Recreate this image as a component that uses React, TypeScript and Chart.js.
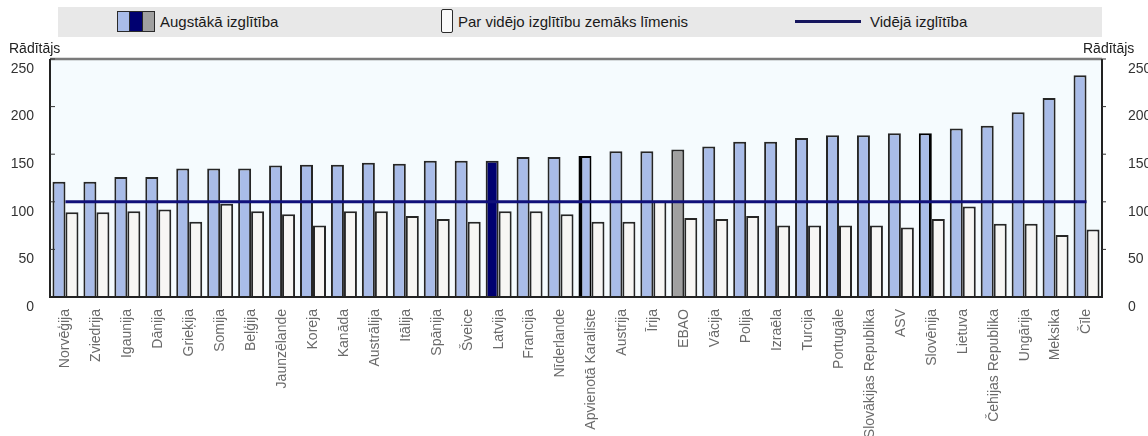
import React, { useEffect, useRef } from 'react';
import { Chart, registerables } from 'chart.js';

Chart.register(...registerables);

const categories = [
  'Norvēģija', 'Zviedrija', 'Igaunija', 'Dānija', 'Grieķija', 'Somija', 'Beļģija',
  'Jaunzēlande', 'Koreja', 'Kanāda', 'Austrālija', 'Itālija', 'Spānija', 'Šveice',
  'Latvija', 'Francija', 'Nīderlande', 'Apvienotā Karaliste', 'Austrija', 'Īrija',
  'EBAO', 'Vācija', 'Polija', 'Izraēla', 'Turcija', 'Portugāle', 'Slovākijas Republika',
  'ASV', 'Slovēnija', 'Lietuva', 'Čehijas Republika', 'Ungārija', 'Meksika', 'Čīle',
];

const higherEducation = [
  121, 121, 126, 126, 135, 135, 135, 138, 139, 139, 141, 140, 143, 143,
  143, 147, 147, 148, 153, 153, 155, 158, 163, 163, 167, 170, 170, 172,
  172, 177, 180, 194, 209, 233,
];

const belowSecondary = [
  89, 89, 90, 92, 79, 98, 90, 87, 75, 90, 90, 85, 82, 79,
  90, 90, 87, 79, 79, 101, 83, 82, 85, 75, 75, 75, 75, 73,
  82, 95, 77, 77, 65, 71,
];

const secondaryAverage = [
  100, 100, 100, 100, 100, 100, 100, 100, 100, 100, 100, 100, 100, 100,
  100, 100, 100, 100, 100, 100, 100, 100, 100, 100, 100, 100, 100, 100,
  100, 100, 100, 100, 100, 100,
];

const yTicks = [0, 50, 100, 150, 200, 250];

const FONT = "'Liberation Sans', Arial, sans-serif";
const BLUE = '#a9bce8';
const NAVY = '#000070';
const GRAY = '#a0a0a0';
const LINE = '#10107a';

const framePlugin = {
  id: 'framePlugin',
  beforeDatasetsDraw(chart: any) {
    const { ctx, chartArea: a } = chart;
    ctx.save();
    ctx.fillStyle = '#f5fbfe';
    ctx.fillRect(a.left, a.top, a.right - a.left, a.bottom - a.top);
    ctx.restore();
  },
  afterDraw(chart: any) {
    const { ctx, chartArea: a } = chart;
    const y = chart.scales.y;
    ctx.save();
    ctx.lineWidth = 2.5;
    ctx.strokeStyle = '#7a7a7a';
    ctx.beginPath();
    ctx.moveTo(a.left, a.top);
    ctx.lineTo(a.right, a.top);
    ctx.stroke();
    ctx.lineWidth = 2;
    ctx.strokeStyle = '#222';
    ctx.beginPath();
    ctx.moveTo(a.left, a.top);
    ctx.lineTo(a.left, a.bottom);
    ctx.lineTo(a.right, a.bottom);
    ctx.lineTo(a.right, a.top);
    ctx.stroke();
    ctx.lineWidth = 1;
    ctx.strokeStyle = '#333';
    yTicks.forEach((v) => {
      if (v === 0) return;
      const py = y.getPixelForValue(v);
      ctx.beginPath();
      ctx.moveTo(a.left, py);
      ctx.lineTo(a.left + 5, py);
      ctx.moveTo(a.right, py);
      ctx.lineTo(a.right + 4, py);
      ctx.stroke();
    });
    ctx.restore();
  },
};

export default function App() {
  const canvasRef = useRef<HTMLCanvasElement | null>(null);

  useEffect(() => {
    document.body.style.margin = '0';
    const canvas = canvasRef.current;
    if (!canvas) return;
    const blueColors = categories.map((c) =>
      c === 'Latvija' ? NAVY : c === 'EBAO' ? GRAY : BLUE
    );
    const blueBorders = categories.map((c) =>
      c === 'Apvienotā Karaliste'
        ? { left: 4, right: 2, top: 2, bottom: 0 }
        : c === 'Slovēnija'
        ? { left: 2, right: 3, top: 2, bottom: 0 }
        : { left: 2, right: 2, top: 2, bottom: 0 }
    );
    const chart = new Chart(canvas, {
      type: 'bar',
      data: {
        labels: categories,
        datasets: [
          {
            type: 'line',
            label: 'Vidējā izglītība',
            data: secondaryAverage,
            borderColor: LINE,
            borderWidth: 3,
            pointRadius: 0,
            fill: false,
            order: 0,
            yAxisID: 'y',
          } as any,
          {
            label: 'Augstākā izglītība',
            data: higherEducation,
            backgroundColor: blueColors,
            borderColor: categories.map((c) => (c === 'Apvienotā Karaliste' || c === 'Slovēnija' ? '#000' : '#262626')),
            borderWidth: blueBorders as any,
            borderSkipped: false,
            categoryPercentage: 0.84,
            barPercentage: 1,
            order: 1,
            yAxisID: 'y',
          },
          {
            label: 'Par vidējo izglītību zemāks līmenis',
            data: belowSecondary,
            backgroundColor: '#f7f6f4',
            borderColor: '#262626',
            borderWidth: { left: 2, right: 2, top: 2, bottom: 0 } as any,
            borderSkipped: false,
            categoryPercentage: 0.84,
            barPercentage: 1,
            order: 2,
            yAxisID: 'y',
          },
        ],
      },
      options: {
        animation: false,
        responsive: false,
        maintainAspectRatio: false,
        layout: { padding: { top: 59, left: 0, right: 0, bottom: 0 } },
        plugins: {
          legend: { display: false },
          tooltip: { enabled: false },
          title: { display: false },
        },
        scales: {
          x: {
            offset: true,
            grid: { display: false },
            border: { display: false },
            ticks: {
              autoSkip: false,
              maxRotation: 90,
              minRotation: 90,
              padding: 4,
              color: '#6a6a6a',
              font: { family: FONT, size: 14 },
            },
            afterFit: (s: any) => {
              s.height = 139;
            },
          },
          y: {
            position: 'left',
            min: yTicks[0],
            max: yTicks[yTicks.length - 1],
            grid: { display: false },
            border: { display: false },
            ticks: {
              stepSize: 50,
              padding: 8,
              labelOffset: 10,
              color: '#333',
              font: { family: FONT, size: 14 },
            },
            afterFit: (s: any) => {
              s.width = 50;
            },
          },
          y2: {
            position: 'right',
            min: yTicks[0],
            max: yTicks[yTicks.length - 1],
            grid: { display: false },
            border: { display: false },
            ticks: {
              stepSize: 50,
              padding: 18,
              labelOffset: 10,
              color: '#333',
              font: { family: FONT, size: 14 },
            },
            afterFit: (s: any) => {
              s.width = 46;
            },
          },
        },
      },
      plugins: [framePlugin],
    });
    return () => chart.destroy();
  }, []);

  const legendText: React.CSSProperties = {
    position: 'absolute',
    top: 13,
    fontFamily: FONT,
    fontSize: 15,
    color: '#1a1a1a',
    lineHeight: '17px',
    whiteSpace: 'nowrap',
  };

  return (
    <div
      style={{
        position: 'fixed',
        left: 0,
        top: 0,
        width: 1148,
        height: 436,
        background: '#fff',
        overflow: 'hidden',
      }}
    >
      <canvas ref={canvasRef} width={1148} height={436} style={{ position: 'absolute', left: 0, top: 0 }} />
      <div style={{ position: 'absolute', left: 58, top: 7, width: 1044, height: 30, background: '#e8e8e8' }} />
      <div
        style={{
          position: 'absolute',
          left: 117,
          top: 11,
          width: 36,
          height: 19,
          border: '1.5px solid #2a2a2a',
          display: 'flex',
        }}
      >
        <div style={{ flex: 1, background: BLUE, borderRight: '1px solid #2a2a2a' }} />
        <div style={{ flex: 1, background: NAVY, borderRight: '1px solid #2a2a2a' }} />
        <div style={{ flex: 1, background: GRAY }} />
      </div>
      <div style={{ ...legendText, left: 160 }}>Augstākā izglītība</div>
      <div
        style={{
          position: 'absolute',
          left: 441,
          top: 9,
          width: 10,
          height: 22,
          border: '1.5px solid #2a2a2a',
          borderRadius: 2,
          background: '#fafafa',
        }}
      />
      <div style={{ ...legendText, left: 458 }}>Par vidējo izglītību zemāks līmenis</div>
      <div style={{ position: 'absolute', left: 795, top: 20, width: 66, height: 3, background: '#16165e' }} />
      <div style={{ ...legendText, left: 870 }}>Vidējā izglītība</div>
      <div style={{ position: 'absolute', left: 9, top: 40, fontFamily: FONT, fontSize: 14, color: '#222' }}>Rādītājs</div>
      <div style={{ position: 'absolute', left: 1083, top: 40, fontFamily: FONT, fontSize: 14, color: '#222' }}>Rādītājs</div>
    </div>
  );
}
